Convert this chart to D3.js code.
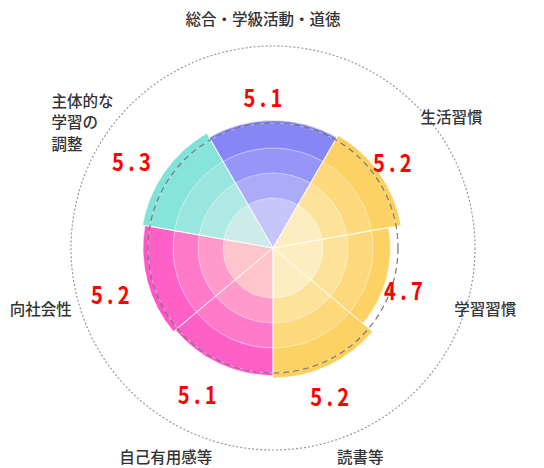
<!DOCTYPE html>
<html>
<head>
<meta charset="utf-8">
<script src="https://cdn.jsdelivr.net/npm/d3@7"></script>
<style>
body { margin: 0; background: #fff; }
</style>
</head>
<body>
<div id="chart"></div>
<script>
var w = 544;
var h = 468;
var cx = 273;
var cy = 248;

// data
var categories = ["総合・学級活動・道徳", "生活習慣", "学習習慣", "読書等", "自己有用感等", "向社会性", "主体的な\n学習の\n調整"];
var values = [5.1, 5.2, 4.7, 5.2, 5.1, 5.2, 5.3];
var spans = [60, 50, 50, 50, 50, 50, 50];   // sector width in degrees
var groups = ["blue", "yellow", "yellow", "yellow", "pink", "pink", "teal"];
var bandEdges = [0, 2, 3, 4, 5];
var refValue = 5;
var maxValue = 8.08;

var colors = {
    blue: ["#7f7ff6", "#c6c6fb"],
    yellow: ["#fccf5a", "#feedc0"],
    pink: ["#ff55c8", "#ffc4cc"],
    teal: ["#7fe3db", "#cdece9"]
};
// how far each band moves toward the light colour, center first
var bandMix = [1, 0.62, 0.32, 0.1];

var rScale = d3.scaleLinear()
    .domain([0, refValue])
    .range([0, 125]);

var toRad = Math.PI / 180;
var startDeg = -30;
var ends = d3.cumsum(spans);

var sectors = values.map(function(v, i) {
    var a0 = startDeg + (i === 0 ? 0 : ends[i - 1]);
    var a1 = startDeg + ends[i];
    return { i: i, value: v, a0: a0 * toRad, a1: a1 * toRad, mid: (a0 + a1) / 2 * toRad };
});

var svg = d3.select("#chart")
    .append("svg")
    .attr("width", w)
    .attr("height", h);

var g = svg.append("g")
    .attr("transform", "translate(" + cx + "," + cy + ")");

var arc = d3.arc();

// base sectors
g.selectAll("path.sector")
    .data(sectors)
    .enter()
    .append("path")
    .attr("class", "sector")
    .attr("d", function(d) {
        return arc({ innerRadius: 0, outerRadius: rScale(d.value), startAngle: d.a0, endAngle: d.a1 });
    })
    .attr("fill", function(d) { return colors[groups[d.i]][0]; });

// lighter bands inside each sector
sectors.forEach(function(d) {
    var c = colors[groups[d.i]];
    var mix = d3.interpolateRgb(c[0], c[1]);
    for (var b = 0; b < bandEdges.length - 1; b++) {
        var lo = bandEdges[b];
        var hi = Math.min(bandEdges[b + 1], d.value);
        if (hi <= lo) continue;
        g.append("path")
            .attr("d", arc({ innerRadius: rScale(lo), outerRadius: rScale(hi), startAngle: d.a0, endAngle: d.a1 }))
            .attr("fill", mix(bandMix[b]))
            .attr("stroke", "#fff")
            .attr("stroke-opacity", 0.45)
            .attr("stroke-width", 0.8);
    }
});

// sector outlines
g.selectAll("path.edge")
    .data(sectors)
    .enter()
    .append("path")
    .attr("class", "edge")
    .attr("d", function(d) {
        return arc({ innerRadius: 0, outerRadius: rScale(d.value), startAngle: d.a0, endAngle: d.a1 });
    })
    .attr("fill", "none")
    .attr("stroke", "#fff")
    .attr("stroke-opacity", 0.6)
    .attr("stroke-width", 1);

// dashed reference circle at 5
g.append("circle")
    .attr("r", rScale(refValue))
    .attr("fill", "none")
    .attr("stroke", "#777")
    .attr("stroke-width", 1.2)
    .attr("stroke-dasharray", "6,4");

// outer dotted circle
g.append("circle")
    .attr("r", rScale(maxValue))
    .attr("fill", "none")
    .attr("stroke", "#999")
    .attr("stroke-width", 1.2)
    .attr("stroke-dasharray", "2,2");

// value labels
var fmt = d3.format(".1f");
var lx = -10;
g.selectAll("text.value")
    .data(sectors)
    .enter()
    .append("text")
    .attr("class", "value")
    .attr("transform", function(d) {
        var R = rScale(d.value) + 28;
        var x = lx + R * Math.sin(d.mid) + 2;
        var y = 4 - R * Math.cos(d.mid);
        return "translate(" + x + "," + y + ") scale(0.84,1)";
    })
    .attr("text-anchor", "middle")
    .attr("dominant-baseline", "central")
    .attr("font-family", "'Noto Sans CJK JP', sans-serif")
    .attr("font-size", "24px")
    .attr("font-weight", "bold")
    .attr("letter-spacing", "5px")
    .attr("fill", "#ff0000")
    .text(function(d) { return fmt(d.value); });

// category labels
var labelR = 230;
var lineH = 21.5;
var fontSize = 15.5;
sectors.forEach(function(d) {
    var lines = categories[d.i].split("\n");
    var multi = lines.length > 1;
    var px = lx + labelR * Math.sin(d.mid) + (multi ? 8 : 0);
    var py = -labelR * Math.cos(d.mid) + (multi ? 5 : 0);
    var maxLen = d3.max(lines, function(s) { return s.length; });
    var t = g.append("text")
        .attr("font-family", "'Noto Sans CJK JP', sans-serif")
        .attr("font-size", fontSize + "px")
        .attr("font-weight", 500)
        .attr("fill", "#333")
        .attr("text-anchor", multi ? "start" : "middle");
    lines.forEach(function(s, k) {
        t.append("tspan")
            .attr("x", multi ? px - maxLen * fontSize / 2 : px)
            .attr("y", py + (k - (lines.length - 1) / 2) * lineH)
            .attr("dominant-baseline", "central")
            .text(s);
    });
});
</script>
</body>
</html>
